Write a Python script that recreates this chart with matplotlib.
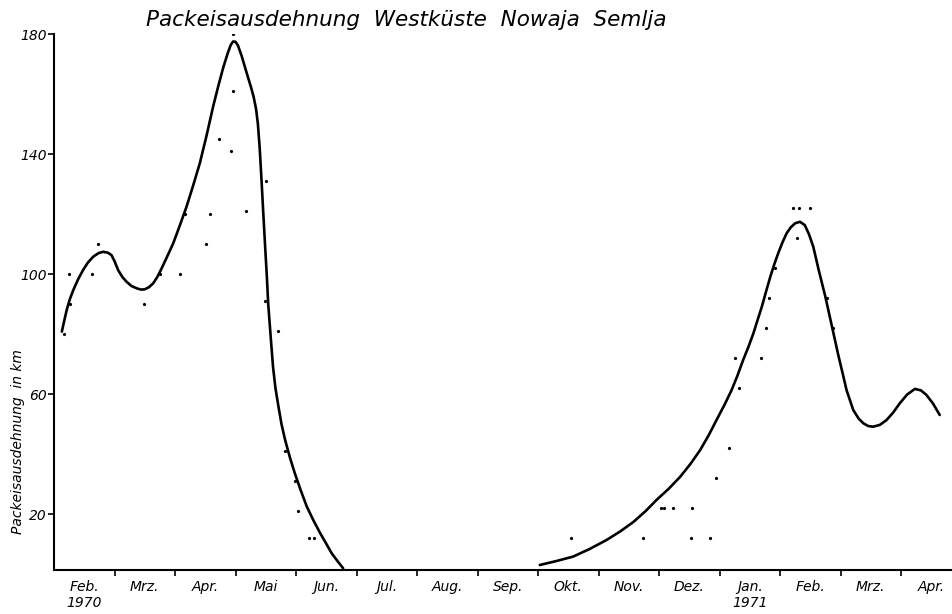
import matplotlib
matplotlib.use("Agg")
import matplotlib.pyplot as plt

# ---- data (x in months since start of Feb 1970, y in km) ----
months = ["Feb.\n1970", "Mrz.", "Apr.", "Mai", "Jun.", "Jul.", "Aug.", "Sep.",
          "Okt.", "Nov.", "Dez.", "Jan.\n1971", "Feb.", "Mrz.", "Apr."]
y_ticks = [20, 60, 100, 140, 180]

obs_x = [0.17, 0.27, 0.25, 0.62, 0.72, 1.49, 1.75, 2.09, 2.17, 2.51, 2.58, 2.73,
         2.93, 2.96, 2.96, 3.17, 3.50, 3.49, 3.71, 3.81, 3.99, 4.04, 4.21, 4.29,
         8.54, 9.74, 10.03, 10.08, 10.23, 10.55, 10.53, 10.84, 10.94, 11.15,
         11.26, 11.32, 11.68, 11.77, 11.81, 11.92, 12.22, 12.31, 12.50, 12.28,
         12.78, 12.87]
obs_y = [80, 90, 100, 100, 110, 90, 100, 100, 120, 110, 120, 145,
         141, 161, 180, 121, 131, 91, 81, 41, 31, 21, 12, 12,
         12, 12, 22, 22, 22, 22, 12, 12, 32, 42,
         72, 62, 72, 82, 92, 102, 122, 122, 122, 112,
         92, 82]

curve1_x = [0.13, 0.17, 0.21, 0.26, 0.32, 0.40, 0.48, 0.56, 0.65, 0.74, 0.815,
            0.89, 0.95, 1.00, 1.06, 1.13, 1.20, 1.28, 1.37, 1.44, 1.50, 1.57,
            1.64, 1.71, 1.78, 1.87, 1.97, 2.08, 2.19, 2.30, 2.41, 2.52, 2.63,
            2.72, 2.80, 2.87, 2.92, 2.96, 3.00, 3.04, 3.10, 3.185, 3.26, 3.30,
            3.34, 3.37, 3.40, 3.43, 3.46, 3.49, 3.52, 3.54, 3.58, 3.62, 3.66,
            3.71, 3.76, 3.82, 3.90, 3.98, 4.08, 4.18, 4.29, 4.40, 4.50, 4.59,
            4.69, 4.78]
curve1_y = [80.8, 84.5, 88, 91.5, 94.7, 98.3, 101.3, 103.8, 105.8, 107.0, 107.4,
            107.1, 106.3, 104.3, 101.3, 99.0, 97.4, 96.0, 95.2, 94.8, 94.9, 95.6,
            96.9, 99.1, 101.9, 105.8, 110.2, 116.2, 122.4, 129.5, 136.9, 146, 155.8,
            163, 169, 173.5, 176.3, 177.5, 177.4, 176.2, 172.8, 167, 162, 159,
            155, 150, 142, 131.3, 120, 109.1, 98.5, 90.2, 79.5, 69.1, 62,
            55.8, 50, 44.7, 38.8, 33.6, 27.8, 22.4, 17.8, 13.6, 10.1, 6.9,
            4.2, 1.9]

curve2_x = [8.03, 8.30, 8.58, 8.85, 9.13, 9.36, 9.58, 9.78, 9.96, 10.16, 10.35,
            10.52, 10.68, 10.82, 10.95, 11.08, 11.20, 11.30, 11.39, 11.48, 11.56,
            11.63, 11.70, 11.77, 11.84, 11.91, 11.97, 12.04, 12.11, 12.18, 12.25,
            12.33, 12.41, 12.48, 12.55, 12.64, 12.75, 12.86, 12.97, 13.04, 13.10,
            13.21, 13.30, 13.38, 13.46, 13.54, 13.65, 13.76, 13.87, 13.98, 14.10,
            14.23, 14.33, 14.42, 14.53, 14.64]
curve2_y = [3.0, 4.3, 5.8, 8.3, 11.3, 14.2, 17.4, 21.0, 24.7, 28.4, 32.4,
            36.7, 41.3, 46.2, 51.3, 56.3, 61.3, 66.3, 71.3, 75.8, 80.2,
            84.7, 89.1, 94.2, 99.1, 103.5, 106.9, 110.5, 113.6, 115.6, 116.9,
            117.4, 116.3, 113.2, 109.1, 101.3, 92.4, 82.4, 72.4, 66.5, 61.3,
            54.7, 51.8, 50.2, 49.3, 49.1, 49.7, 51.3, 53.8, 56.9, 59.8,
            61.7, 61.2, 59.7, 56.8, 53.0]

title = "Packeisausdehnung  Westküste  Nowaja  Semlja"
ylabel = "Packeisausdehnung  in km"

# ---- figure ----
W, H = 952, 614
fig = plt.figure(figsize=(W / 100, H / 100), dpi=100)
x0px, right_px, top_px, bot_px = 54, 952, 34, 569.5
ax = fig.add_axes([x0px / W, (H - bot_px) / H, (right_px - x0px) / W, (bot_px - top_px) / H])
ax.set_xlim(0, (right_px - x0px) / 60.5)
ax.set_ylim(1.5, 180)

font = dict(family="DejaVu Sans", style="italic")

for cx, cy in ((curve1_x, curve1_y), (curve2_x, curve2_y)):
    ax.plot(cx, cy, color="black", lw=1.9, solid_capstyle="round", solid_joinstyle="round")
ax.plot(obs_x, obs_y, linestyle="none", marker="o", markersize=1.3, color="black")

for s in ("top", "right"):
    ax.spines[s].set_visible(False)
for s in ("left", "bottom"):
    ax.spines[s].set_linewidth(1.5)

ax.set_yticks(y_ticks)
ax.set_yticklabels([str(v) for v in y_ticks], fontsize=10, **font)
ax.set_xticks(range(1, len(months)))
ax.set_xticklabels([])
ax.tick_params(axis="both", direction="out", length=4, width=1.2, color="black")
ax.tick_params(axis="y", pad=1)

for i, m in enumerate(months):
    ax.text(i + 0.5, -0.02, m, transform=ax.get_xaxis_transform(), ha="center", va="top",
            fontsize=10, linespacing=1.15, **font)

fig.text(406 / W, 1 - 20 / H, title, ha="center", va="center", fontsize=15.5, **font)
fig.text(18 / W, 1 - 442 / H, ylabel, ha="center", va="center", rotation=90, fontsize=10, **font)

fig.savefig("out.png", dpi=100)
